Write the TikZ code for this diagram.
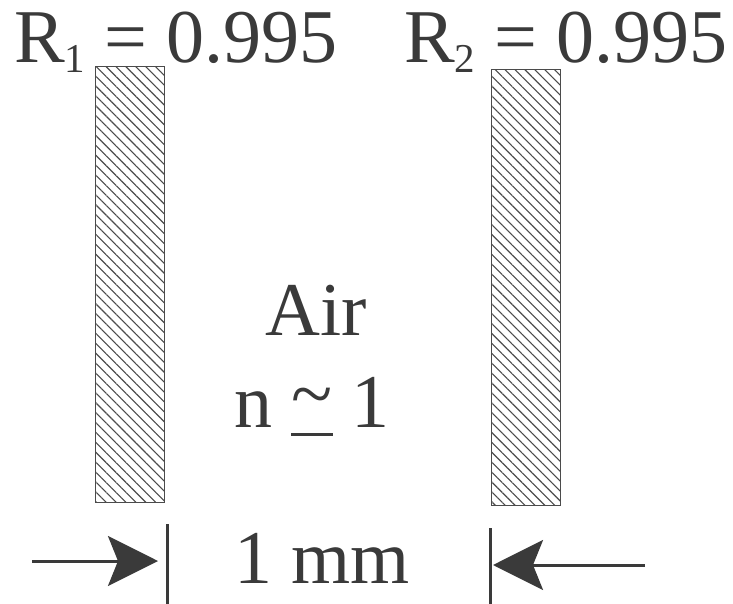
\documentclass[tikz,border=0pt]{standalone}
\usepackage{fontspec}
\setmainfont{Liberation Serif}
\usetikzlibrary{arrows.meta,positioning,patterns.meta}
\definecolor{ink}{RGB}{58,58,58}
\definecolor{edge}{RGB}{75,75,75}
\newsavebox{\tildebox}
\newcommand{\ulsim}{\sbox{\tildebox}{\char`\~}%
  \rlap{\rule[-9pt]{\wd\tildebox}{3pt}}\raisebox{8pt}{\usebox{\tildebox}}}
\newcommand{\sub}[1]{\raisebox{-10pt}{\fontsize{41}{41}\selectfont #1}}
\tikzset{
  plate/.style={draw=edge,line width=1pt,minimum width=69pt,minimum height=435pt,
    inner sep=0pt,pattern={Lines[angle=-45,distance=7pt,line width=1.1pt]},pattern color=edge},
  lbl/.style={text=ink,font=\fontsize{76}{86}\selectfont,inner sep=0pt},
  bar/.style={draw=ink,line width=3pt},
  dim/.style={draw=ink,line width=3pt,-{Stealth[length=50pt,width=50pt,inset=10pt]}},
}
\begin{document}
\begin{tikzpicture}[x=1pt,y=1pt]
  \useasboundingbox (0,0) rectangle (733,-604);
  % mirrors
  \node[plate] (m1) at (129.5,-284.5) {};
  \node[plate] (m2) at (526,-287.5) {};
  \node[lbl,anchor=base west] (r1) at (14,-63) {R\sub{1} = 0.995};
  \node[lbl,anchor=base west] (r2) at (404,-63) {R\sub{2} = 0.995};
  % gap medium
  \node[lbl,anchor=base] (air) at (316,-335) {Air};
  \node[lbl,anchor=base] (idx) at (312,-427) {n \ulsim{} 1};
  % spacing
  \node[lbl,anchor=base] (gap) at (322,-583) {1 mm};
  \coordinate (b1t) at (167,-524);
  \coordinate (b1b) at (167,-604);
  \coordinate (b2t) at (490,-528);
  \coordinate (b2b) at (490,-604);
  \draw[bar] (b1t) -- (b1b);
  \draw[bar] (b2t) -- (b2b);
  \coordinate (a1) at (32,-561);
  \coordinate (a2) at (645,-565);
  \draw[dim] (a1) -- ([xshift=-9pt]b1t |- a1);
  \draw[dim] (a2) -- ([xshift=3pt]b2t |- a2);
\end{tikzpicture}
\end{document}
